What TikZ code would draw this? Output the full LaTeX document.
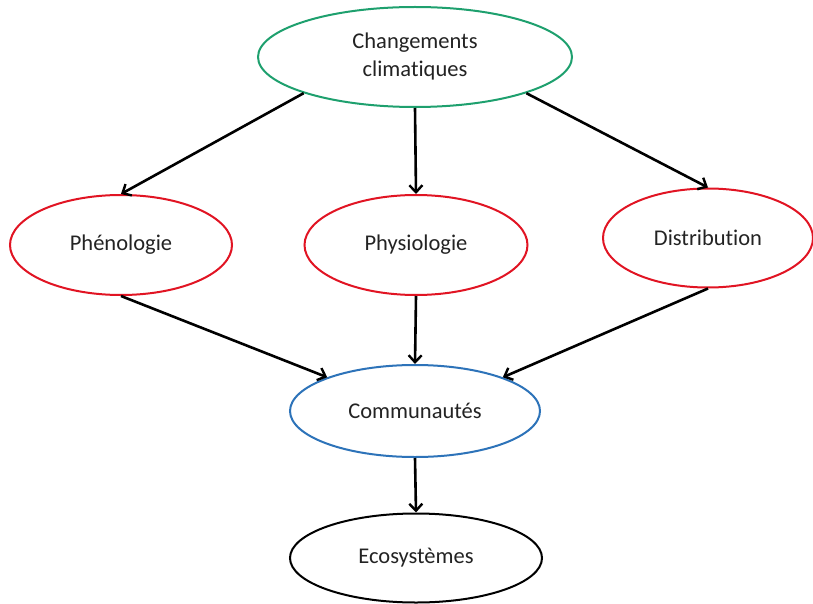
\documentclass[tikz,border=0pt]{standalone}
\usepackage{fontspec}
\setmainfont{Carlito}[Ligatures=NoCommon]
\usetikzlibrary{shapes.geometric,arrows.meta}
\definecolor{cgreen}{RGB}{30,160,110}
\definecolor{cred}{RGB}{225,20,35}
\definecolor{cblue}{RGB}{45,115,185}
\definecolor{ctext}{RGB}{35,35,35}
\begin{document}
\begin{tikzpicture}[x=1pt,y=-1pt,
  bub/.style={ellipse,draw,line width=2pt,fill=white,inner sep=0pt,text=ctext,
     font=\fontsize{22.5}{28}\selectfont,align=center},
  arr/.style={line width=2.6pt,-{Straight Barb[length=7pt,width=13pt,line width=2.4pt]}}]
\useasboundingbox (0,0) rectangle (813,604);
\node[bub,draw=cgreen,minimum width=314pt,minimum height=100pt] (cc) at (415,57) {Changements\\climatiques};
\node[bub,draw=cred,minimum width=222pt,minimum height=100pt] (ph) at (121,245) {Phénologie};
\node[bub,draw=cred,minimum width=223pt,minimum height=100pt] (py) at (416,245) {Physiologie};
\node[bub,draw=cred,minimum width=210pt,minimum height=99pt] (di) at (708,238) {Distribution};
\node[bub,draw=cblue,minimum width=250pt,minimum height=92pt] (co) at (415,411) {Communautés};
\node[bub,draw=black,minimum width=252pt,minimum height=89pt] (ec) at (416,558) {Ecosystèmes};
\draw[arr] (cc.198) -- (ph.north);
\draw[arr] (cc.south) -- (py.north);
\draw[arr] (cc.342) -- (di.north);
\draw[arr] (ph.south) -- (co.159);
\draw[arr] (py.south) -- (co.north);
\draw[arr] (di.south) -- (co.21);
\draw[arr] (co.south) -- (ec.north);
\end{tikzpicture}
\end{document}
